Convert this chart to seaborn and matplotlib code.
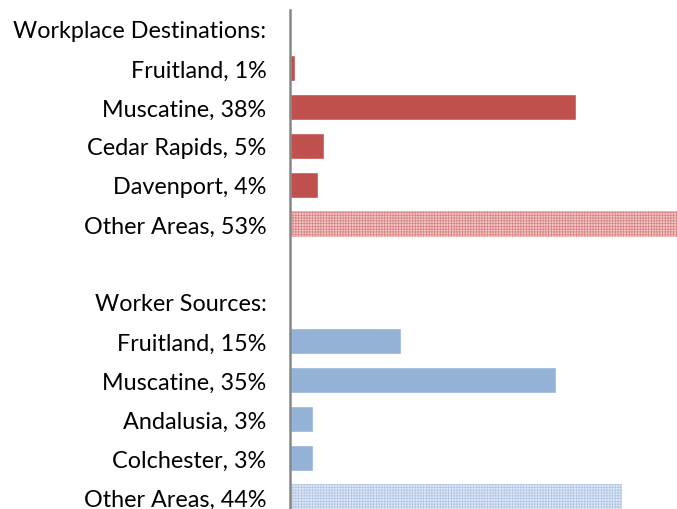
import pandas as pd
import matplotlib.pyplot as plt
import seaborn as sns

# data (percent of commuters)
dest_labels = ['Fruitland, 1%', 'Muscatine, 38%', 'Cedar Rapids, 5%', 'Davenport, 4%', 'Other Areas, 53%']
dest_values = [0.7, 37.9, 4.5, 3.7, 53.2]
src_labels = ['Fruitland, 15%', 'Muscatine, 35%', 'Andalusia, 3%', 'Colchester, 3%', 'Other Areas, 44%']
src_values = [14.7, 35.2, 3.0, 3.0, 44.0]

header_dest = 'Workplace Destinations:'
header_src = 'Worker Sources:'
row_order = [header_dest] + dest_labels + [' ', header_src] + src_labels

df = pd.DataFrame({
    'label': dest_labels + src_labels,
    'pct': dest_values + src_values,
    'grp': ['dest'] * len(dest_labels) + ['src'] * len(src_labels),
})

colors = {'dest': '#C0504D', 'src': '#95B3D7'}
# pattern colours for the "Other Areas" bars
hatch_col = {'dest': '#D98886', 'src': '#B3C8E6'}
light = {'dest': '#F2CACA', 'src': '#E2EAF6'}

sns.set_style('white')
plt.rcParams['font.family'] = ['Lato', 'DejaVu Sans']
plt.rcParams['hatch.linewidth'] = 0.6

fig = plt.figure(figsize=(6.77, 5.10), dpi=100)
ax = fig.add_axes([290 / 677, -7.5 / 510, 387 / 677, 507 / 510])

sns.barplot(data=df, x='pct', y='label', hue='grp', order=row_order,
            palette=colors, dodge=False, width=0.68, legend=False, ax=ax,
            saturation=1, orient='h')

# "Other Areas" bars get a fine pattern
other_rows = {row_order.index(dest_labels[-1]): 'dest',
              row_order.index(src_labels[-1]): 'src'}
for p in ax.patches:
    yc = round(p.get_y() + p.get_height() / 2)
    if yc in other_rows and p.get_width() > 0:
        g = other_rows[yc]
        p.set_facecolor(light[g])
        p.set_hatch('++++++')
        p.set_edgecolor(hatch_col[g])
        p.set_linewidth(0)

ax.set_xlim(0, 51.3)
ax.set_ylim(12.5, -0.5)
ax.set_xlabel('')
ax.set_ylabel('')
ax.set_xticks([])
ax.tick_params(axis='y', length=0, pad=17, labelsize=16.8, labelcolor='black')
for s in ['top', 'right', 'bottom']:
    ax.spines[s].set_visible(False)
ax.spines['left'].set_color('#868686')
ax.spines['left'].set_linewidth(1.8)
ax.spines['left'].set_bounds(-0.5, 12.5)

fig.savefig('out.png', dpi=100)
